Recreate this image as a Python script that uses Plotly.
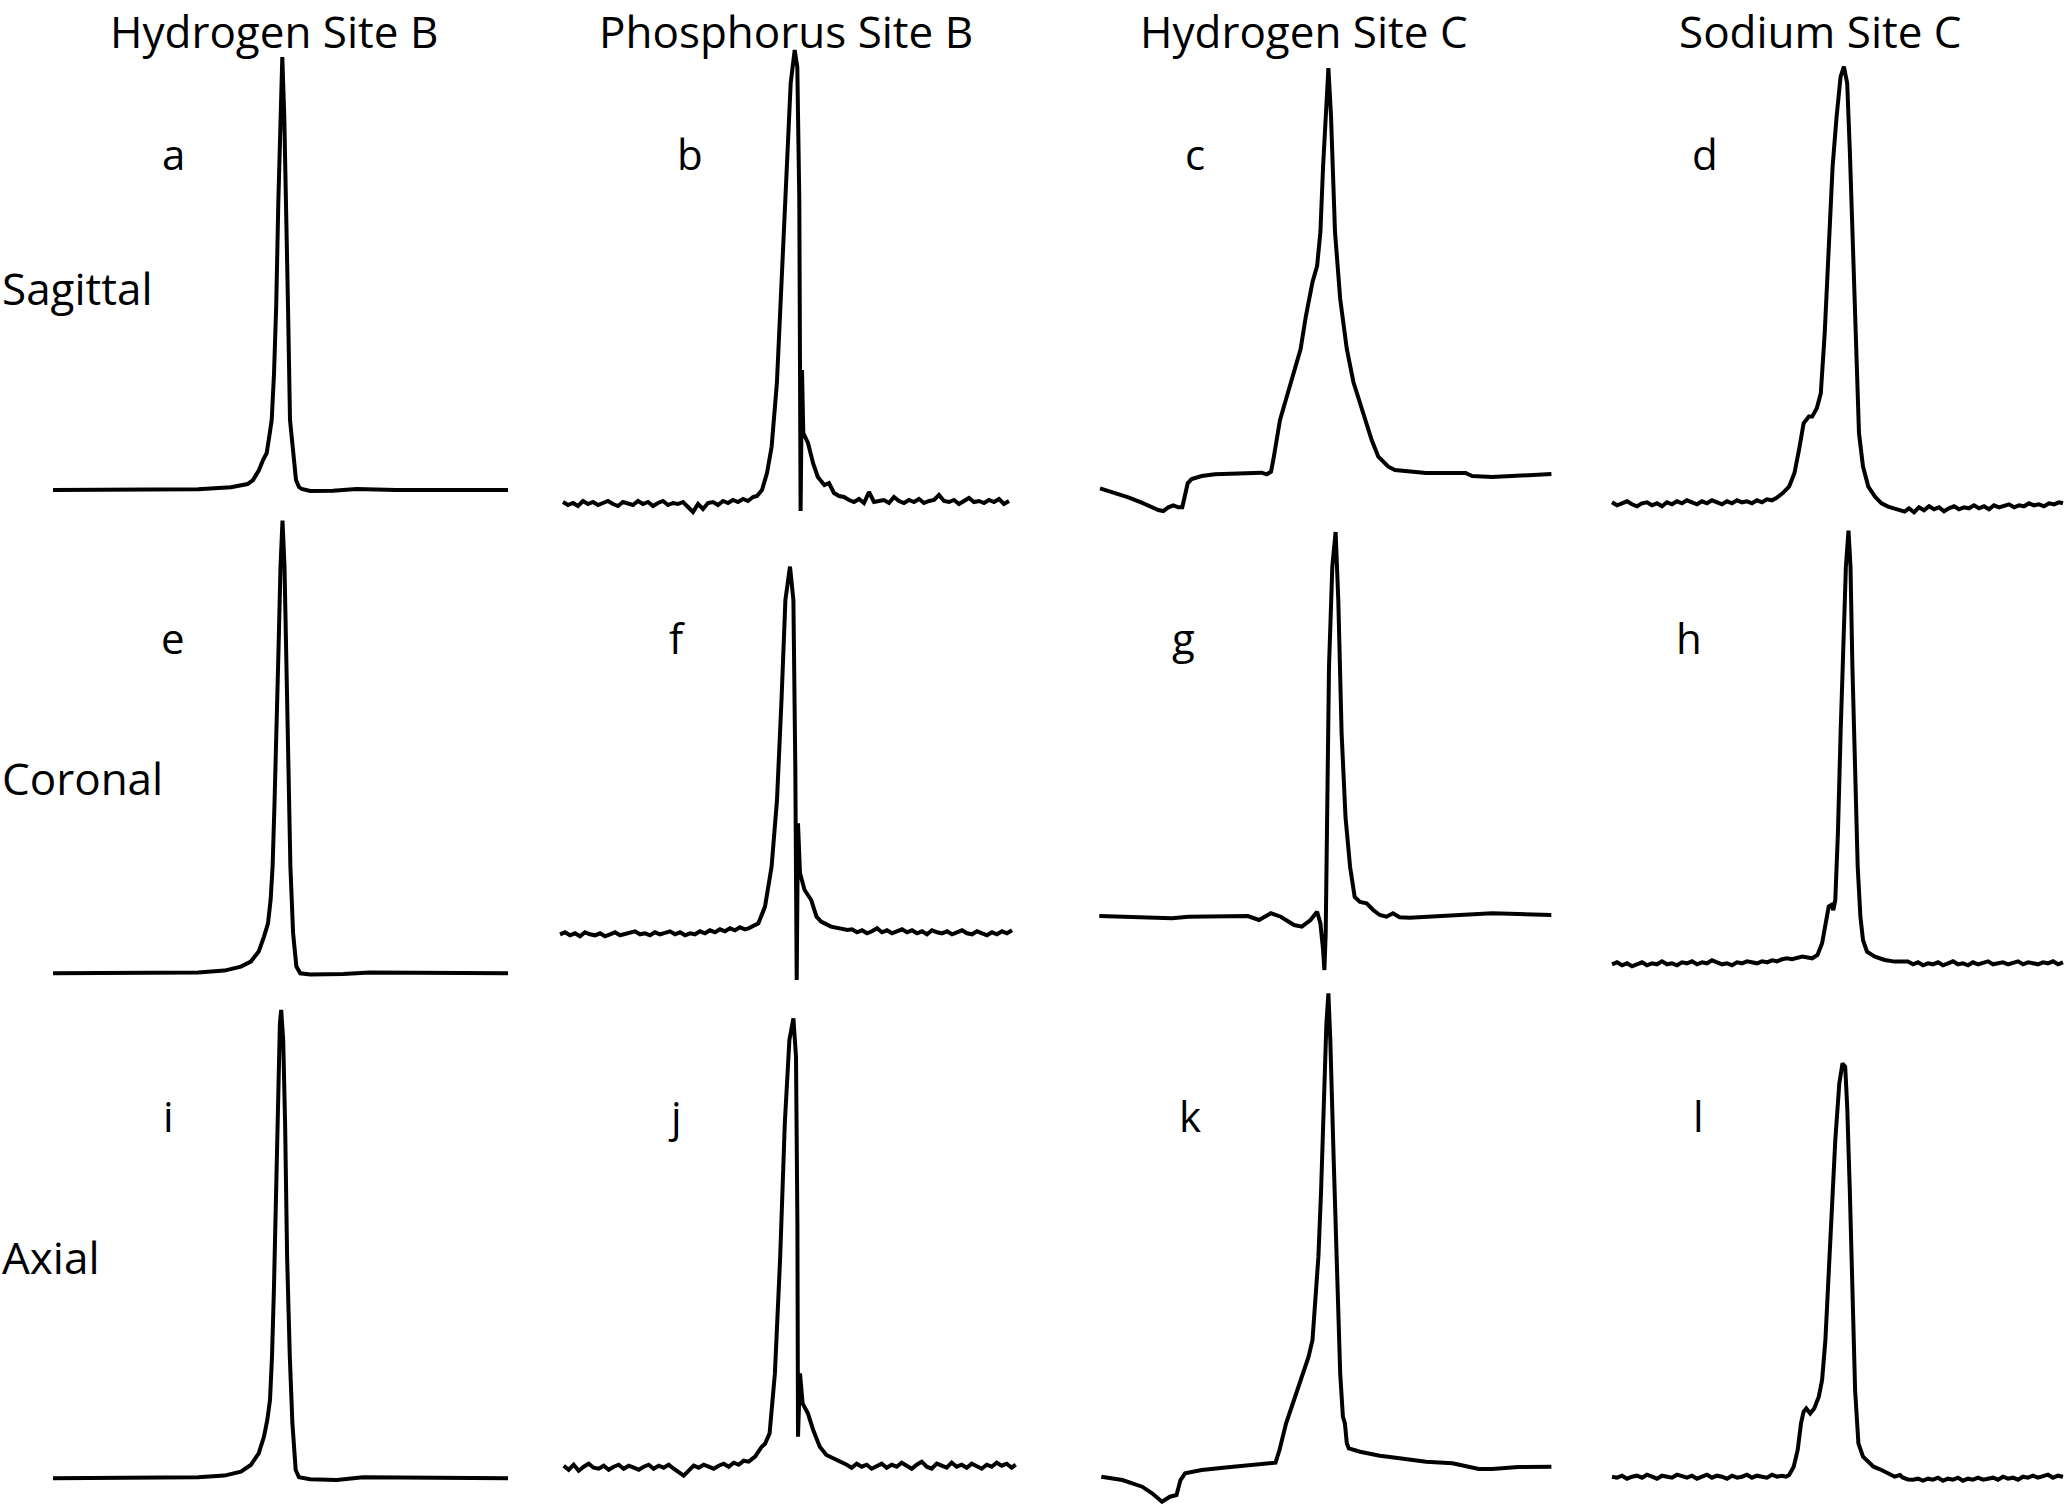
import plotly.graph_objects as go

FIG_W, FIG_H = 2065, 1504

col_titles = ["Hydrogen Site B", "Phosphorus Site B", "Hydrogen Site C", "Sodium Site C"]
row_titles = ["Sagittal", "Coronal", "Axial"]
panel_letters = ["a", "b", "c", "d", "e", "f", "g", "h", "i", "j", "k", "l"]

# ---- spectra: (frequency offset, signal in a.u.) ----
spec_a = [(0, 0), (145, 0.7), (178, 2.7), (194.5, 6), (200, 10), (206, 20), (210, 30), (213.7, 37),
          (216.5, 55), (218.7, 70), (221, 116), (223.2, 184), (225.3, 287), (227.4, 372), (229.3, 433),
          (231.3, 372), (233.2, 287), (235, 184), (237, 70), (240, 37), (243, 10), (246, 3), (248.7, 1),
          (257.2, -1), (280, -0.7), (303.4, 1), (343, 0), (455, 0)]

spec_b = [(0, -2), (5, -5), (10, -3), (15, -6), (20, -1), (25, -4), (30, -2), (35, -5), (40, -3), (45, -1),
          (50, -4), (55, -6), (60, -2), (65, -3), (70, -5), (75, -1), (80, -4), (85, -2), (90, -6), (95, -3),
          (100, -1), (105, -5), (110, -3), (115, -4), (120, -2), (125, -7), (130, -12), (135, -4), (140, -9),
          (145, -3), (150, -2), (155, -5), (160, -1), (165, -3), (170, 0), (175, -2), (180, 1), (185, -1),
          (190, 3),
          (194, 4), (199, 10), (204, 27), (208.6, 53), (213.9, 117), (218.5, 217), (223, 333), (227.7, 417),
          (231.7, 450), (234.3, 433), (236.3, 300), (237, 167), (237.6, -11), (239, 130), (240.3, 67),
          (245, 57), (250, 37), (254.8, 23), (261.4, 15), (266, 17), (271, 7), (276, 4), (281, 3),
          (286, 0), (291, -2), (296, 1), (301, -3), (306, 8), (311, -2), (316, -1), (321, 0), (326, -3),
          (331, 3), (336, -1), (341, -3), (346, 0), (351, -2), (356, 1), (361, -3), (366, -1), (371, 0),
          (376, 5), (381, -1), (386, -2), (391, 0), (396, -4), (401, -1), (406, 2), (411, -2), (416, -1),
          (421, -3), (426, 0), (431, -2), (436, 1), (441, -4), (446, -1)]

spec_c = [(0, -14.3), (15, -18.7), (28.3, -23.3), (41.7, -28.7), (51.7, -33.3), (58.3, -36), (63.3, -37),
          (68.3, -33.3), (73.3, -31.3), (78.3, -33.3), (82.3, -33.3), (85, -22.7), (87.7, -9.3), (91.7, -5),
          (101.7, -2), (115, -0.3), (135, 0), (161.7, 1.3), (166.7, -0.3), (171, 2.3), (173.3, 14),
          (176.7, 37.3), (180, 54), (186.1, 75), (194, 102), (200.6, 125), (205.9, 158), (212.5, 192),
          (217.1, 208), (220.4, 242), (223.1, 308), (225.7, 365), (228.4, 406), (231, 358), (235, 242),
          (240.2, 175), (246.8, 125), (253.4, 92), (265, 54), (271.7, 34), (278.3, 17.3), (288.3, 7.3),
          (295, 4), (326, 1), (365.6, 1), (372.2, -2), (392, -3), (425, -1), (451.4, 0)]

spec_d = [(0, 1), (5, -2), (10, 0), (15, 2), (20, -1), (25, -3), (30, 0), (35, 1), (40, -2), (45, 0),
          (50, -3), (55, 1), (60, -1), (65, 2), (70, 0), (75, 3), (80, 1), (85, -1), (90, 2), (95, 0),
          (100, 3), (105, 1), (110, -1), (115, 2), (120, 0), (125, 3), (130, 1), (135, 2), (140, 0),
          (145, 3), (150, 1), (155, 4), (160, 3),
          (163.9, 5), (170.5, 10), (177.1, 16.7), (182.4, 30), (187, 53.3), (191.6, 80), (196.9, 86.7),
          (200.2, 86.7), (204.8, 95), (208.8, 110), (212.7, 170), (216.7, 253.3), (220.6, 336.7),
          (224.6, 386.7), (228.6, 426.7), (231.9, 436.7), (235.2, 420), (237.8, 353.3), (240.4, 270),
          (243.1, 170), (247, 70), (251, 36.7), (256.3, 16.7), (262.9, 6.7), (269.5, 0), (276.1, -3.3),
          (282.7, -5), (292.6, -8.3),
          (297, -5), (302, -9), (307, -4), (312, -7), (317, -3), (322, -6), (327, -4), (332, -8), (337, -5),
          (342, -3), (347, -6), (352, -4), (357, -5), (362, -2), (367, -5), (372, -3), (377, -6), (382, -2),
          (387, -4), (392, -3), (397, -1), (402, -4), (407, -2), (412, -3), (417, 0), (422, -2), (427, -1),
          (432, -3), (437, 0), (442, -1), (447, 1), (451, 0)]

spec_e = [(0, 0), (145, 0.7), (171.4, 2.7), (187.9, 6.7), (197.8, 11.7), (205.7, 21.7), (211, 36.7),
          (215, 50), (217.6, 73.3), (219.6, 106.7), (221.6, 173.3), (223.6, 240), (225.5, 323.3),
          (227.5, 406.7), (229.5, 452.7), (231.5, 406.7), (233.5, 306.7), (235.4, 206.7), (237.4, 106.7),
          (240.1, 40), (243.4, 6.7), (247.3, 0), (257.2, -1.3), (290.2, -0.7), (316.6, 0.7), (455, 0)]

spec_f = [(0, -1), (5, 1), (10, -2), (15, 0), (20, -3), (25, 1), (30, -1), (35, -2), (40, 0), (45, -3),
          (50, -1), (55, 1), (60, -2), (65, -1), (70, 0), (75, 2), (80, -1), (85, 0), (90, -2), (95, 1),
          (100, -1), (105, 0), (110, 2), (115, -1), (120, 1), (125, -2), (130, 0), (135, -1), (140, 2),
          (145, 0), (150, 3), (155, 1), (160, 4), (165, 2), (170, 5), (175, 3), (180, 6), (185, 4),
          (188.5, 5), (198.4, 10), (205, 26.7), (211.6, 66.7), (217, 133.3), (221.5, 233.3), (225.4, 333.3),
          (230, 366.7), (233.4, 333.3), (235.3, 166.7), (236.7, -46.7), (238, 110), (240, 60), (244.6, 43.3),
          (251.2, 33.3), (256.5, 16.7), (261.1, 11.7), (271, 6.7), (287.5, 3.3),
          (292, 4), (297, 1), (302, 3), (307, 0), (312, 2), (317, 5), (322, 1), (327, 3), (332, 0), (337, 2),
          (342, 4), (347, 1), (352, 3), (357, 0), (362, 2), (367, -1), (372, 3), (377, 1), (382, 0), (387, 2),
          (392, -1), (397, 1), (402, 3), (407, 0), (412, -1), (417, 2), (422, 0), (427, -2), (432, 1),
          (437, -1), (442, 2), (447, 0), (452, 3)]

spec_g = [(0, -1), (29.7, -1.7), (72.6, -3.3), (89.1, -1.7), (148.5, -1), (159.7, -5), (171.6, 1.7),
          (181.5, -1.7), (194.7, -10), (202.6, -11.7), (211.2, -5), (217.8, 3.3), (221.1, -8.3), (223.8, -35),
          (225.1, -55), (226.4, -18.3), (227.7, 115), (229.7, 248), (233, 348), (236.3, 383), (239, 315),
          (242.3, 182), (246.2, 98), (250.8, 48), (255.4, 18), (260.7, 13), (267.3, 11.7), (273.9, 5),
          (280.5, 0), (287.1, -1.7), (293.7, 1.7), (300.3, -2.3), (310.2, -2.7), (326.7, -1.7), (359.7, 0),
          (392.7, 1.7), (419.1, 1), (452, 0)]

spec_h = [(0, -1), (5, 1), (10, -2), (15, 0), (20, -3), (25, -1), (30, 1), (35, -2), (40, 0), (45, -1),
          (50, 2), (55, -1), (60, 0), (65, -2), (70, 1), (75, 0), (80, 2), (85, -1), (90, 1), (95, 0),
          (100, 3), (105, 1), (110, -1), (115, 0), (120, -2), (125, 1), (130, 0), (135, 2), (140, 1),
          (145, 0), (150, 2), (155, 1), (160, 3), (165, 2), (170, 4), (175, 5), (180, 4),
          (183.7, 5), (190.3, 6.7), (200.2, 5), (205.5, 8.3), (210.1, 20), (213.4, 40), (216.7, 56.7),
          (219.3, 58.3), (221.3, 53.3), (223.3, 63.3), (225.9, 130), (228.6, 230), (231.2, 330),
          (233.9, 396.7), (236.5, 432.7), (238.5, 396.7), (240.4, 296.7), (243.1, 196.7), (245.7, 96.7),
          (248.4, 46.7), (251, 23.3), (255, 11.7), (262.9, 6.7), (272.8, 3.3), (282.7, 1.7), (295.9, 1.7),
          (301, -1), (306, 1), (311, -2), (316, 0), (321, -1), (326, 1), (331, -2), (336, 0), (341, 2),
          (346, -1), (351, 0), (356, -2), (361, 1), (366, -1), (371, 0), (376, 2), (381, -1), (386, 0),
          (391, 1), (396, -1), (401, 0), (406, 2), (411, -1), (416, 1), (421, 0), (426, -1), (431, 1),
          (436, 0), (441, 2), (446, -1), (451, 1)]

spec_i = [(0, 0), (145, 1), (171.4, 2.7), (187.9, 6.7), (197.8, 13.3), (205.7, 25), (211, 41.7),
          (214.3, 58.3), (217, 78.3), (219, 121.7), (220.9, 188.3), (222.9, 288.3), (224.9, 388.3),
          (226.9, 455), (228.2, 468.3), (230.2, 438.3), (232.1, 355), (234.1, 221.7), (236.8, 121.7),
          (239.4, 55), (242.7, 8.3), (246, 1), (257.2, -1), (283.6, -1.7), (310, 1), (455, 0)]

spec_j = [(0, 1), (5, -3), (10, 2), (15, -4), (20, 0), (25, 3), (30, -1), (35, -2), (40, 1), (45, -3),
          (50, 0), (55, 2), (60, -2), (65, 1), (70, -1), (75, -3), (80, 0), (85, 2), (90, -2), (95, 1),
          (100, -1), (105, 2), (110, -2), (115, -6), (120, -9), (125, -4), (130, 1), (135, -1), (140, 2),
          (145, 0), (150, -2), (155, 1), (160, 3), (165, 0), (170, 4), (175, 2), (180, 6), (185, 5),
          (191.4, 10), (198, 20), (201.3, 23), (205.9, 33.3), (211.2, 93.3), (216.5, 210), (221.1, 343.3),
          (225.7, 426.7), (229.7, 448.3), (232.3, 410), (233.7, 243.3), (234.3, 30), (236.3, 93.3),
          (238.9, 63.3), (244.2, 53.3), (249.5, 36.7), (256.1, 20), (262.7, 11.7), (273.9, 6.7),
          (278, 4), (283, 2), (288, -1), (293, 3), (298, 0), (303, 2), (308, -2), (313, 1), (318, 3),
          (323, -1), (328, 2), (333, 0), (338, 4), (343, 1), (348, -2), (353, 2), (358, 5), (363, 0),
          (368, -2), (373, 3), (378, 1), (383, -1), (388, 4), (393, 0), (398, 2), (403, -1), (408, 3),
          (413, 1), (418, -2), (423, 2), (428, 0), (433, 4), (438, 1), (443, 3), (448, -1), (452, 2)]

spec_k = [(0, -9.7), (21.1, -13), (40.9, -19.7), (50.8, -26.3), (60.7, -34.7), (68.6, -29.7), (75.2, -28),
          (79.2, -13), (83.8, -6.3), (100.3, -3), (126.7, -0.3), (153.1, 2), (174.2, 4.3), (178.2, 17),
          (184.8, 43.7), (192.7, 67), (200.6, 90.3), (207.3, 110.3), (211.2, 127), (213.8, 160.3),
          (217.1, 210.3), (219.8, 277), (222.4, 360.3), (225.1, 443.7), (227.1, 473.7), (229, 427),
          (232.3, 310.3), (235.6, 193.7), (238.9, 93.7), (241.6, 50.3), (243.6, 43.7), (245.5, 23.7),
          (247.5, 18.7), (258.7, 15.3), (278.5, 11.3), (298.3, 8.7), (324.7, 5.3), (351.1, 3.7),
          (377.5, -2), (390.7, -2), (417.1, 0), (450.1, 0.3)]

spec_l = [(0, 0), (5, -1), (10, 1), (15, -2), (20, 0), (25, 1), (30, -1), (35, 2), (40, 0), (45, -2),
          (50, 1), (55, 0), (60, -1), (65, 2), (70, 0), (75, -1), (80, 1), (85, -2), (90, 0), (95, 2),
          (100, -1), (105, 1), (110, 0), (115, -2), (120, 1), (125, -1), (130, 0), (135, 2), (140, -1),
          (145, 1), (150, 0), (155, -1), (160, 2), (165, 0), (170, 1), (174, 0),
          (177.1, 1.7), (181.7, 10), (185.7, 26.7), (189, 53.3), (191.6, 65), (194.3, 68.3), (198.2, 63.3),
          (202.2, 68.3), (206.8, 80), (210.1, 96.7), (213.4, 136.7), (216.7, 203.3), (220, 270),
          (223.3, 336.7), (227.3, 393.3), (230.5, 413.3), (233.2, 410), (235.2, 370), (237.8, 286.7),
          (240.4, 186.7), (243.1, 86.7), (246.4, 33.3), (251, 20), (256.3, 15), (261.5, 10), (269.5, 6.7),
          (276.1, 3.3), (282.7, 0), (288, 1.7), (290.6, -0.7), (295.9, -2.7),
          (301, -3), (306, -2), (311, -4), (316, -2), (321, -3), (326, -1), (331, -4), (336, -2), (341, -3),
          (346, -1), (351, -4), (356, -2), (361, -3), (366, -1), (371, -3), (376, -2), (381, -1), (386, -3),
          (391, 0), (396, -2), (401, -1), (406, -3), (411, 0), (416, -1), (421, 1), (426, -1), (431, 0),
          (436, 2), (441, -1), (446, 1), (451, 0)]

spectra = [spec_a, spec_b, spec_c, spec_d, spec_e, spec_f, spec_g, spec_h, spec_i, spec_j, spec_k, spec_l]

# ---- layout (pixel positions on the 2065 x 1504 canvas) ----
panel_left = [53, 563, 1100, 1612, 53, 560, 1099.3, 1612, 53, 563.7, 1101.3, 1612]
panel_base = [490, 500, 474, 503.3, 973.3, 933.3, 915, 963.3, 1478.3, 1466.7, 1467, 1476.7]
row_band = [(20, 540), (500, 1010), (970, 1504)]

title_x = [274, 786, 1304, 1820]
title_y = 31
row_label_y = [288, 778, 1257]
letter_x = [173, 690, 1195, 1705, 173, 677, 1183, 1689, 168, 675, 1190, 1698]
letter_y = [153, 153, 153, 153, 637, 637, 637, 637, 1115, 1115, 1115, 1115]

FONT = "Open Sans, Noto Sans, sans-serif"
FS_TITLE = 44
FS_LETTER = 42
LW = 4

fig = go.Figure()
layout_axes = {}
for k, spec in enumerate(spectra):
    n = k + 1
    row = k // 4
    x0 = panel_left[k]
    base = panel_base[k]
    top, bottom = row_band[row]
    left_px = x0 - 10
    right_px = min(FIG_W, x0 + 465)
    xs = [p[0] for p in spec]
    ys = [p[1] for p in spec]
    fig.add_trace(go.Scatter(
        x=xs, y=ys, mode="lines",
        line=dict(color="black", width=LW),
        xaxis=f"x{n}", yaxis=f"y{n}",
        cliponaxis=False, hoverinfo="skip", showlegend=False,
    ))
    layout_axes[f"xaxis{n}"] = dict(
        domain=[left_px / FIG_W, right_px / FIG_W],
        range=[left_px - x0, right_px - x0],
        visible=False, anchor=f"y{n}", fixedrange=True,
    )
    layout_axes[f"yaxis{n}"] = dict(
        domain=[1 - bottom / FIG_H, 1 - top / FIG_H],
        range=[base - bottom, base - top],
        visible=False, anchor=f"x{n}", fixedrange=True,
    )

annotations = []
for t, cx in zip(col_titles, title_x):
    annotations.append(dict(text=t, x=cx / FIG_W, y=1 - title_y / FIG_H, xref="paper", yref="paper",
                            xanchor="center", yanchor="middle", showarrow=False,
                            font=dict(family=FONT, size=FS_TITLE, color="black")))
for t, cy in zip(row_titles, row_label_y):
    annotations.append(dict(text=t, x=0, y=1 - cy / FIG_H, xref="paper", yref="paper",
                            xanchor="left", yanchor="middle", showarrow=False,
                            font=dict(family=FONT, size=FS_TITLE, color="black")))
for t, lx, ly in zip(panel_letters, letter_x, letter_y):
    annotations.append(dict(text=t, x=lx / FIG_W, y=1 - ly / FIG_H, xref="paper", yref="paper",
                            xanchor="center", yanchor="middle", showarrow=False,
                            font=dict(family=FONT, size=FS_LETTER, color="black")))

fig.update_layout(
    width=FIG_W, height=FIG_H,
    margin=dict(l=0, r=0, t=0, b=0),
    paper_bgcolor="white", plot_bgcolor="rgba(0,0,0,0)",
    showlegend=False,
    annotations=annotations,
    **layout_axes,
)

# remove the default page margin so the figure sits at the window origin
fig.write_html("out.html", config={"displayModeBar": False},
               post_script="document.body.style.margin='0';")
